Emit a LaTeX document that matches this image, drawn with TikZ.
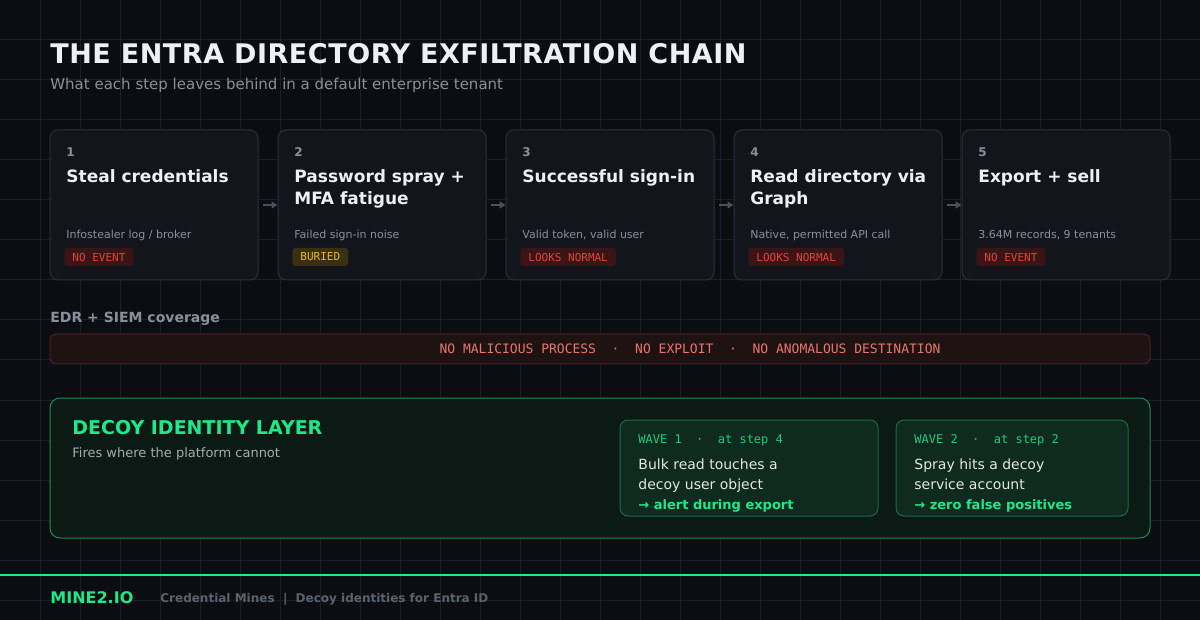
\documentclass[tikz,border=0pt]{standalone}
\usepackage{fontspec}
\setmainfont{DejaVu Sans}
\setmonofont{DejaVu Sans Mono}
\usetikzlibrary{arrows.meta}

\definecolor{bgdark}{HTML}{0B0D12}
\definecolor{gridgray}{HTML}{1B1F27}
\definecolor{cardbg}{HTML}{12151C}
\definecolor{cardedge}{HTML}{2C303A}
\definecolor{titlewhite}{HTML}{EEF0F3}
\definecolor{numgray}{HTML}{8A909A}
\definecolor{redfill}{HTML}{3B1416}
\definecolor{redtext}{HTML}{E0443C}
\definecolor{amberfill}{HTML}{3A3010}
\definecolor{ambertext}{HTML}{E8B830}
\definecolor{edrfill}{HTML}{1E1213}
\definecolor{edredge}{HTML}{4A2224}
\definecolor{edrtext}{HTML}{E8766A}
\definecolor{decoyfill}{HTML}{0B1A14}
\definecolor{decoyedge}{HTML}{1F8A55}
\definecolor{mintgreen}{HTML}{20E88A}
\definecolor{sagegray}{HTML}{9FB0A8}
\definecolor{wavefill}{HTML}{0F2A1F}
\definecolor{waveedge}{HTML}{1C6A45}
\definecolor{wavehead}{HTML}{25C97C}
\definecolor{wavebody}{HTML}{E3E8E5}
\definecolor{footgray}{HTML}{5B626D}
\definecolor{arrowgray}{HTML}{4A505C}

\tikzset{
  card/.style={draw=cardedge, fill=cardbg, rounded corners=4pt, line width=0.5pt,
    minimum width=104pt, minimum height=75pt, inner sep=0pt},
  stepnum/.style={anchor=base west, inner sep=0pt, text=numgray,
    font=\bfseries\fontsize{6}{7}\selectfont},
  steptitle/.style={anchor=north west, inner sep=0pt, align=left, text=titlewhite,
    font=\bfseries\fontsize{8.5}{11}\selectfont},
  stepdesc/.style={anchor=base west, inner sep=0pt, text=numgray,
    font=\fontsize{5.5}{6.5}\selectfont},
  badge/.style={anchor=west, inner xsep=4pt, inner ysep=0pt, minimum height=9pt,
    rounded corners=1.5pt, font=\ttfamily\fontsize{5.5}{6.5}\selectfont},
  redbadge/.style={badge, fill=redfill, text=redtext},
  amberbadge/.style={badge, fill=amberfill, text=ambertext},
  flow/.style={draw=arrowgray, line width=0.8pt, -{Triangle[length=3pt,width=3.5pt]}, shorten <=2pt},
  gridline/.style={draw=gridgray, line width=0.5pt},
  wavebox/.style={draw=waveedge, fill=wavefill, rounded corners=4pt, line width=0.5pt,
    minimum height=48pt, inner sep=0pt},
  wavehd/.style={anchor=base west, inner sep=0pt, text=wavehead,
    font=\ttfamily\fontsize{6}{7}\selectfont},
  wavetxt/.style={anchor=base west, inner sep=0pt, text=wavebody,
    font=\fontsize{7}{8}\selectfont},
  waveout/.style={anchor=base west, inner sep=0pt, text=mintgreen,
    font=\bfseries\fontsize{6.5}{7.5}\selectfont},
}

\begin{document}
\begin{tikzpicture}[x=0.5pt,y=-0.5pt]
  \useasboundingbox (0,0) rectangle (1200,620);
  \fill[bgdark] (0,0) rectangle (1200,620);
  % background grid
  \foreach \gx in {40,80,...,1160} \draw[gridline] (\gx,0) -- (\gx,620);
  \foreach \gy in {40,80,...,600} \draw[gridline] (0,\gy) -- (1200,\gy);

  % heading
  \node[anchor=base west, inner sep=0pt, text=titlewhite,
    font=\bfseries\fontsize{13.5}{15}\selectfont\addfontfeatures{LetterSpace=2}]
    (heading) at (50,64) {THE ENTRA DIRECTORY EXFILTRATION CHAIN};
  \node[anchor=base west, inner sep=0pt, text=numgray, font=\fontsize{7.5}{8.5}\selectfont]
    (subheading) at (50,90) {What each step leaves behind in a default enterprise tenant};

  % the five steps
  \foreach \i/\ttl/\desc/\bstyle/\btext in {
      1/{Steal credentials}/{Infostealer log / broker}/redbadge/{NO EVENT},
      2/{Password spray +\\MFA fatigue}/{Failed sign-in noise}/amberbadge/{BURIED},
      3/{Successful sign-in}/{Valid token, valid user}/redbadge/{LOOKS NORMAL},
      4/{Read directory via\\Graph}/{Native, permitted API call}/redbadge/{LOOKS NORMAL},
      5/{Export + sell}/{3.64M records, 9 tenants}/redbadge/{NO EVENT}} {
    \pgfmathsetmacro{\cx}{154+228*(\i-1)}
    \pgfmathsetmacro{\lx}{66+228*(\i-1)}
    \node[card] (s\i) at (\cx,205) {};
    \node[stepnum] (n\i) at (\lx,157) {\i};
    \node[steptitle] (t\i) at (\lx,169) {\ttl};
    \node[stepdesc] (d\i) at (\lx,239) {\desc};
    \node[\bstyle] (b\i) at (\lx-2,257) {\btext};
  }
  \foreach \i [evaluate=\i as \j using int(\i+1)] in {1,...,4}
    \draw[flow] (s\i.east) -- (s\j.west);

  % EDR + SIEM strip
  \node[anchor=base west, inner sep=0pt, text=numgray, font=\bfseries\fontsize{7}{8}\selectfont]
    (edrlabel) at (50,323) {EDR + SIEM coverage};
  \node[draw=edredge, fill=edrfill, rounded corners=3pt, line width=0.5pt,
    minimum width=550pt, minimum height=15pt, inner sep=0pt] (edr) at (600,349) {};
  \node[inner sep=0pt, text=edrtext, font=\ttfamily\fontsize{6.5}{7.5}\selectfont]
    (edrmsg) at (690,349) {NO MALICIOUS PROCESS~~·~~NO EXPLOIT~~·~~NO ANOMALOUS DESTINATION};

  % decoy layer
  \node[draw=decoyedge, fill=decoyfill, rounded corners=5pt, line width=0.5pt,
    minimum width=550pt, minimum height=70pt, inner sep=0pt] (decoy) at (600,468) {};
  \node[anchor=base west, inner sep=0pt, text=mintgreen, font=\bfseries\fontsize{9.5}{10.5}\selectfont]
    (decoytitle) at (72,435) {DECOY IDENTITY LAYER};
  \node[anchor=base west, inner sep=0pt, text=sagegray, font=\fontsize{6.5}{7.5}\selectfont]
    (decoysub) at (72,457) {Fires where the platform cannot};

  \node[wavebox, minimum width=129pt] (w1) at (749,468) {};
  \node[wavehd] at (638,444) {WAVE 1~~·~~at step 4};
  \node[wavetxt] at (638,469) {Bulk read touches a};
  \node[wavetxt] at (638,489) {decoy user object};
  \node[waveout] at (638,509) {→ alert during export};

  \node[wavebox, minimum width=116pt] (w2) at (1012,468) {};
  \node[wavehd] at (914,444) {WAVE 2~~·~~at step 2};
  \node[wavetxt] at (914,469) {Spray hits a decoy};
  \node[wavetxt] at (914,489) {service account};
  \node[waveout] at (914,509) {→ zero false positives};

  % footer
  \coordinate (footl) at (0,575);
  \coordinate (footr) at (1200,575);
  \draw[mintgreen, line width=1pt] (footl) -- (footr);
  \node[anchor=base west, inner sep=0pt, text=mintgreen, font=\bfseries\fontsize{8}{9}\selectfont]
    (brand) at (50,603) {MINE2.IO};
  \node[anchor=base west, inner sep=0pt, text=footgray, font=\bfseries\fontsize{6}{7}\selectfont]
    (tagline) at (160,602) {Credential Mines~~|~~Decoy identities for Entra ID};
\end{tikzpicture}
\end{document}
